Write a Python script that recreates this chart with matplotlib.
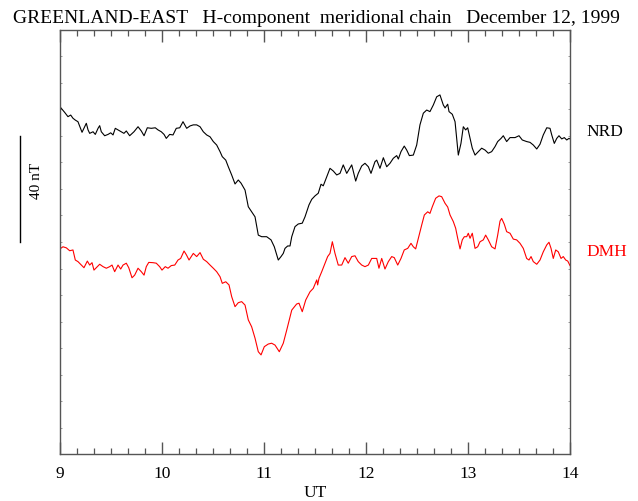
import matplotlib
matplotlib.use("Agg")
import matplotlib.pyplot as plt
from matplotlib.ticker import MultipleLocator
import matplotlib.transforms as mtransforms

plt.rcParams['font.family'] = ['Liberation Serif', 'DejaVu Serif']

# ---- data (UT hours, H-component in nT, arbitrary baseline) ----
nrd_ut = [9.007, 9.046, 9.078, 9.105, 9.127, 9.150, 9.176, 9.216, 9.242, 9.258, 9.275, 9.291, 9.324, 9.346,
          9.373, 9.389, 9.405, 9.438, 9.471, 9.497, 9.520, 9.542, 9.569, 9.601, 9.627, 9.650, 9.683, 9.725,
          9.765, 9.797, 9.824, 9.856, 9.895, 9.934, 9.961, 9.993, 10.020, 10.042, 10.075, 10.108, 10.140,
          10.174, 10.206, 10.242, 10.275, 10.307, 10.340, 10.373, 10.405, 10.438, 10.471, 10.503, 10.536,
          10.569, 10.591, 10.625, 10.650, 10.683, 10.716, 10.748, 10.775, 10.814, 10.846, 10.879, 10.912,
          10.944, 10.977, 11.026, 11.069, 11.101, 11.140, 11.167, 11.189, 11.206, 11.232, 11.255, 11.272,
          11.304, 11.336, 11.375, 11.402, 11.441, 11.468, 11.500, 11.532, 11.559, 11.581, 11.615, 11.647,
          11.679, 11.713, 11.745, 11.777, 11.811, 11.860, 11.899, 11.924, 11.958, 11.990, 12.023, 12.049,
          12.088, 12.105, 12.137, 12.170, 12.203, 12.235, 12.268, 12.301, 12.317, 12.343, 12.375, 12.399,
          12.425, 12.464, 12.497, 12.529, 12.562, 12.595, 12.627, 12.660, 12.693, 12.725, 12.758, 12.775,
          12.801, 12.814, 12.846, 12.873, 12.889, 12.905, 12.931, 12.954, 12.977, 12.997, 13.020, 13.042,
          13.069, 13.101, 13.134, 13.167, 13.199, 13.232, 13.265, 13.291, 13.324, 13.346, 13.379, 13.412,
          13.461, 13.500, 13.532, 13.575, 13.608, 13.640, 13.674, 13.706, 13.738, 13.772, 13.804, 13.821,
          13.846, 13.870, 13.892, 13.919, 13.944, 13.968, 13.990, 14.000]
nrd_h = [130.7, 128.9, 127.3, 127.9, 126.7, 126.0, 125.4, 121.4, 123.5, 124.8, 122.3, 121.0, 121.6, 120.6,
         122.9, 123.9, 121.6, 120.1, 120.6, 121.2, 120.4, 122.9, 122.3, 121.6, 121.0, 121.9, 120.1, 121.6,
         123.5, 121.9, 120.1, 123.1, 122.9, 123.1, 122.3, 121.6, 120.6, 119.1, 120.6, 120.4, 122.9,
         123.1, 125.4, 122.9, 123.8, 124.2, 124.2, 123.5, 121.6, 120.4, 119.7, 117.9, 116.6,
         114.1, 112.2, 110.9, 108.4, 105.3, 101.9, 103.4, 102.2, 99.6, 93.3, 91.4, 89.5,
         82.6, 82.0, 82.0, 80.8, 78.2, 73.2, 74.5, 75.7, 77.6, 78.5, 78.5, 82.0,
         85.8, 86.8, 87.1, 89.5, 94.0, 96.1, 97.4, 98.4, 101.8, 101.2, 104.6, 107.8,
         106.8, 105.3, 105.9, 109.1, 105.9, 109.1, 103.0, 105.9, 108.7, 109.7, 108.4, 105.9,
         110.3, 110.9, 107.8, 111.8, 108.4, 109.7, 111.6, 112.6, 111.3, 114.1, 116.2, 114.7,
         112.6, 112.8, 116.6, 124.2, 128.6, 129.8, 129.2, 131.7, 134.8, 135.5, 131.7, 130.6,
         132.0, 129.2, 128.2, 125.4, 119.1, 112.8, 117.2, 123.5, 122.3, 123.1, 119.1, 115.4,
         112.8, 114.1, 115.4, 114.7, 113.5, 114.1, 116.0, 117.9, 119.1, 120.1, 117.9, 119.4,
         119.4, 120.1, 118.5, 117.9, 117.6, 116.6, 115.1, 116.9, 120.4, 123.1, 122.9, 120.4,
         117.2, 119.1, 120.1, 118.9, 119.4, 118.5, 119.1, 118.9]

dmh_ut = [9.007, 9.029, 9.062, 9.095, 9.127, 9.150, 9.176, 9.209, 9.235, 9.268, 9.291, 9.314, 9.333, 9.366,
          9.389, 9.422, 9.454, 9.487, 9.510, 9.536, 9.569, 9.595, 9.618, 9.650, 9.674, 9.706, 9.732, 9.765,
          9.797, 9.824, 9.846, 9.870, 9.912, 9.944, 9.977, 10.000, 10.032, 10.059, 10.091, 10.125, 10.157,
          10.183, 10.216, 10.240, 10.265, 10.307, 10.340, 10.373, 10.405, 10.438, 10.471, 10.503, 10.536,
          10.569, 10.591, 10.625, 10.657, 10.683, 10.716, 10.748, 10.781, 10.814, 10.846, 10.879, 10.912,
          10.944, 10.971, 11.003, 11.042, 11.075, 11.108, 11.150, 11.189, 11.223, 11.272, 11.320, 11.343,
          11.375, 11.409, 11.451, 11.483, 11.517, 11.526, 11.539, 11.566, 11.598, 11.624, 11.647, 11.670,
          11.696, 11.728, 11.762, 11.794, 11.826, 11.860, 11.892, 11.924, 11.958, 11.990, 12.023, 12.056,
          12.105, 12.127, 12.154, 12.186, 12.219, 12.252, 12.277, 12.311, 12.343, 12.375, 12.409, 12.441,
          12.464, 12.487, 12.513, 12.546, 12.572, 12.605, 12.627, 12.650, 12.683, 12.716, 12.742, 12.775,
          12.801, 12.824, 12.856, 12.879, 12.899, 12.922, 12.944, 12.964, 12.987, 13.003, 13.020, 13.042,
          13.069, 13.095, 13.118, 13.150, 13.173, 13.199, 13.232, 13.265, 13.291, 13.314, 13.330, 13.356,
          13.379, 13.412, 13.444, 13.477, 13.510, 13.542, 13.575, 13.598, 13.618, 13.640, 13.674, 13.706,
          13.738, 13.772, 13.794, 13.814, 13.836, 13.860, 13.885, 13.912, 13.934, 13.958, 13.978, 14.000]
dmh_h = [77.6, 78.2, 77.8, 76.7, 77.0, 73.2, 72.6, 71.3, 70.3, 72.8, 71.3, 72.2, 69.4, 70.7,
         71.6, 70.7, 70.1, 70.7, 71.3, 68.8, 71.3, 69.8, 71.3, 72.0, 70.3, 66.5, 67.5, 70.1,
         68.8, 67.5, 70.7, 72.3, 72.2, 72.0, 70.7, 69.4, 70.7, 70.1, 71.1, 71.3, 73.2,
         73.8, 76.6, 75.1, 73.2, 75.7, 74.5, 76.0, 73.5, 72.6, 71.3, 70.1, 68.8,
         66.9, 64.4, 65.0, 63.8, 59.4, 55.6, 57.1, 57.5, 56.2, 50.6, 48.0, 43.7,
         38.6, 37.4, 40.5, 41.5, 41.8, 41.1, 38.6, 41.8, 46.8, 54.3, 56.6, 56.9,
         53.7, 58.1, 61.2, 62.5, 65.7, 63.8, 66.3, 68.8, 72.0, 74.5, 75.7, 80.1,
         75.7, 71.3, 71.3, 74.1, 72.0, 74.5, 74.8, 72.6, 71.3, 70.7, 71.3, 73.8,
         73.8, 70.1, 73.8, 69.8, 72.6, 74.5, 74.1, 71.3, 73.8, 77.0, 77.6, 79.5,
         78.2, 77.4, 81.4, 86.4, 90.2, 91.4, 90.8, 93.3, 96.5, 97.4, 97.1, 94.6,
         93.2, 90.2, 87.7, 85.2, 81.4, 77.4, 80.8, 82.0, 82.0, 83.3, 81.4, 83.3,
         77.6, 78.2, 80.1, 80.8, 82.6, 80.8, 78.2, 77.4, 82.6, 87.9, 88.9, 86.7,
         83.9, 83.3, 81.1, 80.8, 79.5, 77.6, 73.8, 73.2, 74.5, 72.6, 71.6, 73.2,
         76.3, 78.9, 79.9, 77.6, 73.8, 77.0, 76.3, 73.8, 74.5, 73.2, 72.8, 71.1]

station_names = ['NRD', 'DMH']
station_colors = ['black', 'red']
label_levels = [120.0, 74.7]
x_ticks = [9, 10, 11, 12, 13, 14]
scale_nT = 40
scale_bottom = 80
title = "GREENLAND-EAST   H-component  meridional chain   December 12, 1999"

W, H = 638, 501
fig = plt.figure(figsize=(W / 100, H / 100), dpi=100)
ax = fig.add_axes([60 / W, (H - 454) / H, 510 / W, 424 / H])

for ut, h, c in zip([nrd_ut, dmh_ut], [nrd_h, dmh_h], station_colors):
    ax.plot(ut, h, color=c, lw=0.8)

ax.set_xlim(9, 14)
ax.set_ylim(0, 160)
ax.set_xticks(x_ticks)
ax.set_xticklabels([str(t) for t in x_ticks])
ax.xaxis.set_minor_locator(MultipleLocator(1 / 6))
ax.set_yticks([])
ax.yaxis.set_minor_locator(MultipleLocator(10))

spine_col = '#555555'
for s in ax.spines.values():
    s.set_color(spine_col)
    s.set_linewidth(1.0)
ax.tick_params(axis='x', which='major', direction='in', length=8.6, width=1.0, color=spine_col,
               top=True, bottom=True, labelsize=12.5, pad=8.5)
ax.tick_params(axis='x', which='minor', direction='in', length=4.3, width=0.9, color=spine_col,
               top=True, bottom=True)
ax.tick_params(axis='y', which='minor', direction='in', length=1.3, width=0.6, color='#888888',
               left=True, right=True)

fig.text(315 / W, (H - 497) / H, 'UT', ha='center', va='baseline', fontsize=12.5)
fig.text(12.5 / W, (H - 22.7) / H, title, ha='left', va='baseline', fontsize=14)

trans = mtransforms.blended_transform_factory(ax.transAxes, ax.transData)
for name, col, lev in zip(station_names, station_colors, label_levels):
    ax.text((586 - 60) / 510, lev, name, color=col, fontsize=12.5, ha='left', va='baseline',
            transform=trans, clip_on=False)

# scale bar
xb = (20 - 60) / 510
ax.plot([xb, xb], [scale_bottom, scale_bottom + scale_nT], color='black', lw=1.0,
        transform=trans, clip_on=False)
ax.text((36 - 60) / 510, scale_bottom + scale_nT / 2 + 3, f'{scale_nT} nT', rotation=90,
        ha='center', va='center', fontsize=11, transform=trans, clip_on=False)

fig.savefig('out.png', dpi=100)
